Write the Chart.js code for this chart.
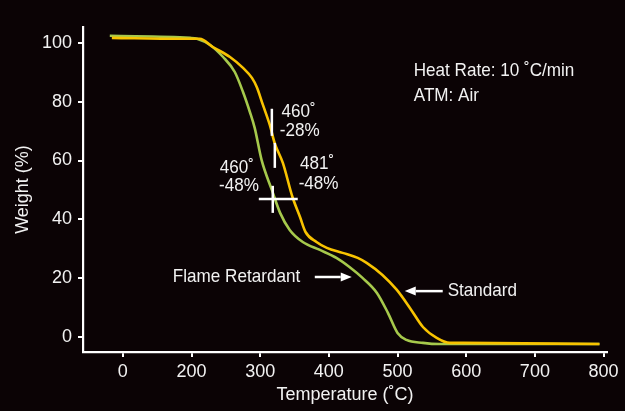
<!DOCTYPE html>
<html>
<head>
<meta charset="utf-8">
<script src="https://cdn.jsdelivr.net/npm/chart.js@4/dist/chart.umd.min.js"></script>
<style>
  html, body { margin: 0; padding: 0; background: #0b0305; }
  #wrap { width: 625px; height: 411px; }
</style>
</head>
<body>
<div id="wrap"><canvas id="c" width="625" height="411"></canvas></div>
<script>
// ---- data ----
const stdTemp   = [84, 183, 212, 231, 256, 275, 288, 295, 304, 314, 321, 333, 347, 358, 366, 382, 397, 420, 442, 455, 478, 499, 518, 537, 557, 576, 595, 794];
const stdWeight = [101.7, 101.4, 101.4, 98.6, 95.2, 91.5, 88.1, 85.0, 78.9, 72.1, 66.0, 59.2, 47.6, 40.8, 35.7, 32.3, 30.3, 28.6, 26.9, 25.2, 21.1, 16.0, 9.9, 3.4, -0.3, -2.0, -2.0, -2.4];
const frTemp    = [81, 198, 208, 227, 246, 263, 275, 285, 292, 302, 317, 329, 343, 362, 387, 411, 430, 449, 470, 486, 500, 513, 537, 561, 794];
const frWeight  = [102.4, 101.7, 101.4, 99.3, 95.2, 90.1, 83.3, 76.5, 71.1, 60.2, 50.0, 42.2, 36.4, 32.3, 29.6, 26.9, 23.8, 20.1, 15.0, 8.2, 1.4, -1.0, -2.0, -2.4, -2.4];

const xTickValues = [100, 200, 300, 400, 500, 600, 700, 800];
const xTickLabels = ['0', '200', '300', '400', '500', '600', '700', '800'];
const yTickValues = [0, 20, 40, 60, 80, 100];

// annotations (in data coordinates)
const annoTexts = [
  { x: 331, y: 76.5, text: '460˚' },
  { x: 328.5, y: 70.1, text: '-28%' },
  { x: 241, y: 57.5, text: '460˚' },
  { x: 240, y: 51.4, text: '-48%' },
  { x: 358, y: 58.8, text: '481˚' },
  { x: 356, y: 52.0, text: '-48%' },
  { x: 523.6, y: 90.5, text: 'Heat Rate: 10 ˚C/min' },
  { x: 523.6, y: 82.0, text: 'ATM: Air' },
  { x: 172.8, y: 20.4, text: 'Flame Retardant' },
  { x: 573, y: 15.6, text: 'Standard' }
];
const annoLines = [
  { x1: 317, y1: 77.6, x2: 317, y2: 68.4 },
  { x1: 321.3, y1: 66.0, x2: 321.3, y2: 57.5 },
  { x1: 318.3, y1: 51.4, x2: 318.3, y2: 42.2 },
  { x1: 298, y1: 46.9, x2: 354.7, y2: 46.9 }
];
const annoArrows = [
  { x1: 379.5, x2: 433.3, y: 20.4 },
  { x1: 565.8, x2: 510.5, y: 15.6 }
];

const FONT = "'Liberation Sans', Arial, sans-serif";
const TXT = '#f2f2f2';
const SQUEEZE = 0.9;

const toXY = (xs, ys) => xs.map((x, i) => ({ x: x, y: ys[i] }));

const bgPlugin = {
  id: 'bg',
  beforeDraw(chart) {
    const ctx = chart.ctx;
    ctx.save();
    ctx.fillStyle = '#0b0305';
    ctx.fillRect(0, 0, chart.width, chart.height);
    ctx.restore();
  }
};

const annoPlugin = {
  id: 'anno',
  afterDatasetsDraw(chart) {
    const ctx = chart.ctx;
    const xs = chart.scales.x, ys = chart.scales.y;
    ctx.save();
    ctx.strokeStyle = '#ffffff';
    ctx.fillStyle = '#ffffff';
    ctx.lineWidth = 2.5;
    annoLines.forEach(l => {
      ctx.beginPath();
      ctx.moveTo(xs.getPixelForValue(l.x1), ys.getPixelForValue(l.y1));
      ctx.lineTo(xs.getPixelForValue(l.x2), ys.getPixelForValue(l.y2));
      ctx.stroke();
    });
    annoArrows.forEach(a => {
      const px1 = xs.getPixelForValue(a.x1), px2 = xs.getPixelForValue(a.x2);
      const py = ys.getPixelForValue(a.y);
      const dir = px2 > px1 ? 1 : -1;
      const head = 11;
      ctx.beginPath();
      ctx.moveTo(px1, py);
      ctx.lineTo(px2 - dir * head, py);
      ctx.stroke();
      ctx.beginPath();
      ctx.moveTo(px2, py);
      ctx.lineTo(px2 - dir * head, py - 4.5);
      ctx.lineTo(px2 - dir * head, py + 4.5);
      ctx.closePath();
      ctx.fill();
    });
    ctx.fillStyle = TXT;
    ctx.font = '19px ' + FONT;
    ctx.textAlign = 'left';
    ctx.textBaseline = 'middle';
    annoTexts.forEach(t => {
      const px = xs.getPixelForValue(t.x), py = ys.getPixelForValue(t.y);
      ctx.save();
      ctx.translate(px, py);
      ctx.scale(SQUEEZE, 1);
      ctx.fillText(t.text, 0, 0);
      ctx.restore();
    });
    ctx.restore();
  }
};

new Chart(document.getElementById('c'), {
  type: 'line',
  data: {
    datasets: [
      {
        label: 'Standard',
        data: toXY(stdTemp, stdWeight),
        borderColor: '#f8c300',
        borderWidth: 2.6,
        pointRadius: 0,
        cubicInterpolationMode: 'monotone',
        fill: false
      },
      {
        label: 'Flame Retardant',
        data: toXY(frTemp, frWeight),
        borderColor: '#a6c94c',
        borderWidth: 2.6,
        pointRadius: 0,
        cubicInterpolationMode: 'monotone',
        fill: false
      }
    ]
  },
  options: {
    responsive: false,
    animation: false,
    events: [],
    layout: { padding: { left: 0, right: 18, top: 27, bottom: 0 } },
    plugins: { legend: { display: false }, tooltip: { enabled: false } },
    scales: {
      x: {
        type: 'linear',
        min: 42,
        max: 805,
        afterBuildTicks: s => { s.ticks = xTickValues.map(v => ({ value: v })); },
        afterFit: s => { s.height = 59; },
        ticks: {
          color: TXT,
          font: { family: FONT, size: 18 },
          padding: 4,
          maxRotation: 0,
          autoSkip: false,
          callback: (v) => xTickLabels[xTickValues.indexOf(v)]
        },
        grid: { drawOnChartArea: false, drawTicks: true, tickLength: 5, color: '#ffffff', lineWidth: 2 },
        border: { display: true, color: '#ffffff', width: 2.2 },
        title: {
          display: true,
          text: 'Temperature (˚C)',
          color: TXT,
          font: { family: FONT, size: 18 },
          padding: { top: 0, bottom: 5 }
        }
      },
      y: {
        type: 'linear',
        min: -5.1,
        max: 105.4,
        afterBuildTicks: s => { s.ticks = yTickValues.map(v => ({ value: v })); },
        afterFit: s => { s.width = 83; },
        ticks: {
          color: TXT,
          font: { family: FONT, size: 18 },
          padding: 6,
          callback: v => String(v)
        },
        grid: { drawOnChartArea: false, drawTicks: true, tickLength: 5, color: '#ffffff', lineWidth: 2 },
        border: { display: true, color: '#ffffff', width: 2.2 },
        title: {
          display: true,
          text: 'Weight (%)',
          color: TXT,
          font: { family: FONT, size: 18 },
          padding: { top: 12, bottom: 0 }
        }
      }
    }
  },
  plugins: [bgPlugin, annoPlugin]
});
</script>
</body>
</html>
